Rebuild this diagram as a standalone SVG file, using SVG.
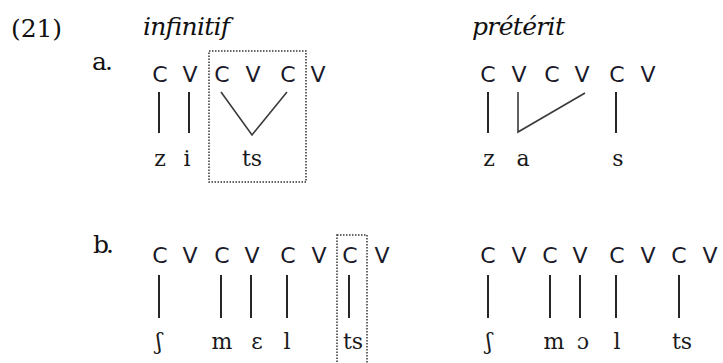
<svg xmlns="http://www.w3.org/2000/svg" width="723" height="363" viewBox="0 0 723 363">
<style>
.lab{font-family:"DejaVu Serif","Liberation Serif",serif;font-size:25px;fill:#111}
.it{font-style:italic}
.cv{font-family:"DejaVu Sans","Liberation Sans",sans-serif;font-size:22px;fill:#1a1a2a;text-anchor:middle}
.ph{font-family:"DejaVu Serif","Liberation Serif",serif;font-size:22px;fill:#1a1a1a;text-anchor:middle}
.ln{stroke:#262626;stroke-width:2;fill:none}
.dg{stroke:#3a3a3a;stroke-width:1.6;fill:none}
.box{stroke:#333;stroke-width:1.5;stroke-dasharray:1.5 1.5;fill:none}
</style>
<g id="labels">
<text class="lab" x="11" y="37" textLength="51">(21)</text>
<text class="lab it" x="143" y="35" textLength="87">infinitif</text>
<text class="lab it" x="472" y="35" textLength="93">prétérit</text>
<text class="lab" x="92" y="70" textLength="21">a.</text>
<text class="lab" x="93" y="253" textLength="21">b.</text>
</g>
<g id="a-infinitif">
<g class="cv"><text x="160" y="82">C</text><text x="190" y="82">V</text><text x="222" y="82">C</text><text x="253" y="82">V</text><text x="288" y="82">C</text><text x="318" y="82">V</text></g>
<g class="ph"><text x="160" y="166">z</text><text x="187" y="166">i</text><text x="252" y="166">ts</text></g>
<rect class="box" x="209" y="51" width="97" height="131"/>
</g>
<g id="a-preterit">
<g class="cv"><text x="488" y="82">C</text><text x="519" y="82">V</text><text x="552" y="82">C</text><text x="582" y="82">V</text><text x="617" y="82">C</text><text x="648" y="82">V</text></g>
<g class="ph"><text x="489" y="166">z</text><text x="523" y="166">a</text><text x="618" y="166">s</text></g>
</g>
<g id="b-infinitif">
<g class="cv"><text x="160" y="263">C</text><text x="190" y="263">V</text><text x="222" y="263">C</text><text x="252" y="263">V</text><text x="288" y="263">C</text><text x="319" y="263">V</text><text x="350" y="263">C</text><text x="382" y="263">V</text></g>
<g class="ph"><text x="159" y="349">ʃ</text><text x="222" y="349">m</text><text x="257" y="349">ɛ</text><text x="287" y="349">l</text><text x="353" y="349">ts</text></g>
<rect class="box" x="337" y="235" width="30" height="140"/>
</g>
<g id="b-preterit">
<g class="cv"><text x="488" y="263">C</text><text x="519" y="263">V</text><text x="550" y="263">C</text><text x="580" y="263">V</text><text x="617" y="263">C</text><text x="648" y="263">V</text><text x="679" y="263">C</text><text x="710" y="263">V</text></g>
<g class="ph"><text x="489" y="349">ʃ</text><text x="554" y="349">m</text><text x="583" y="349">ɔ</text><text x="617" y="349">l</text><text x="682" y="349">ts</text></g>
</g>
<g id="connectors">
<line class="ln" x1="159" y1="92" x2="159" y2="133"/>
<line class="ln" x1="189" y1="92" x2="189" y2="133"/>
<polyline class="dg" points="221,92 252,135 287,92"/>
<line class="ln" x1="488" y1="92" x2="488" y2="133"/>
<polyline class="dg" points="518,92 518,132 585,93"/>
<line class="ln" x1="616" y1="92" x2="616" y2="133"/>
<line class="ln" x1="159" y1="275" x2="159" y2="318"/>
<line class="ln" x1="221" y1="275" x2="221" y2="318"/>
<line class="ln" x1="251" y1="275" x2="251" y2="318"/>
<line class="ln" x1="287" y1="275" x2="287" y2="318"/>
<line class="ln" x1="349" y1="275" x2="349" y2="318"/>
<line class="ln" x1="488" y1="275" x2="488" y2="318"/>
<line class="ln" x1="550" y1="275" x2="550" y2="318"/>
<line class="ln" x1="580" y1="275" x2="580" y2="318"/>
<line class="ln" x1="616" y1="275" x2="616" y2="318"/>
<line class="ln" x1="679" y1="275" x2="679" y2="318"/>
</g>
</svg>
